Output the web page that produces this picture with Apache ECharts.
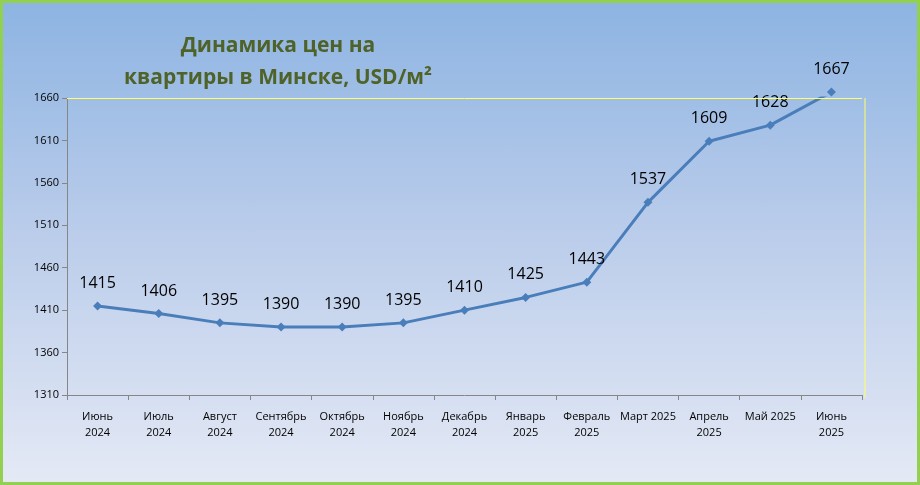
<!DOCTYPE html>
<html lang="ru">
<head>
<meta charset="UTF-8">
<title>Динамика цен</title>
<script src="https://cdn.jsdelivr.net/npm/echarts@6/dist/echarts.min.js"></script>
<style>
    html,body{margin:0;padding:0;}
    #main{width:920px;height:485px;box-sizing:border-box;border:3px solid #92d050;
        background:linear-gradient(to bottom,#8db4e2 0%,#b8cbea 45%,#e4e9f5 100%);}
</style>
</head>
<body>
<div id="main"></div>
<script>
var months = ['Июнь\n2024','Июль\n2024','Август\n2024','Сентябрь\n2024','Октябрь\n2024','Ноябрь\n2024',
    'Декабрь\n2024','Январь\n2025','Февраль\n2025','Март 2025','Апрель\n2025','Май 2025','Июнь\n2025'];
var prices = [1415,1406,1395,1390,1390,1395,1410,1425,1443,1537,1609,1628,1667];

var myChart = echarts.init(document.getElementById('main'));
var option = {
    title: {
        text: 'Динамика цен на\nквартиры в Минске, USD/м²',
        left: 270, top: 22, textAlign: 'center',
        textStyle: {color:'#4f6228', fontSize:21, fontWeight:'bold', fontFamily:'Open Sans', lineHeight:32}
    },
    grid: {left:64, right:55, top:95, bottom:87},
    xAxis: {
        type:'category', data:months, boundaryGap:true,
        axisLine:{lineStyle:{color:'#868686'}},
        axisTick:{show:true, lineStyle:{color:'#868686'}},
        axisLabel:{interval:0, color:'#000', fontSize:11, fontFamily:'Open Sans', lineHeight:16, margin:14}
    },
    yAxis: {
        type:'value', min:1310, max:1660, interval:50,
        axisLine:{show:true, lineStyle:{color:'#868686'}},
        axisTick:{show:true, lineStyle:{color:'#868686'}},
        splitLine:{show:false},
        axisLabel:{color:'#000', fontSize:11, fontFamily:'Open Sans', formatter:function(v){return String(v);}}
    },
    series: [{
        type:'line', data:prices, clip:false,
        symbol:'diamond', symbolSize:9,
        lineStyle:{color:'#4a7ebb', width:3},
        itemStyle:{color:'#4a7ebb'},
        label:{show:true, position:'top', distance:10, color:'#000', fontSize:16, fontFamily:'Open Sans'},
        markLine:{
            silent:true, symbol:'none', label:{show:false},
            lineStyle:{color:'#ffff66', type:'solid', width:1},
            data:[{yAxis:1660}]
        }
    }],
    graphic: [{type:'line', shape:{x1:862, y1:95, x2:862, y2:395}, style:{stroke:'#ffff66', lineWidth:1}}]
};
myChart.setOption(option);
</script>
</body>
</html>
